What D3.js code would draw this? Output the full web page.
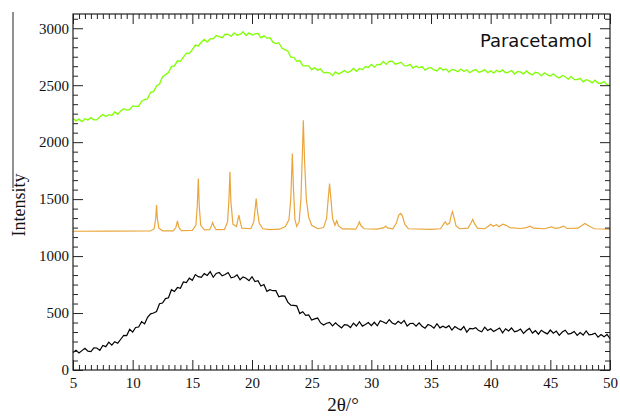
<!DOCTYPE html>
<html><head><meta charset="utf-8">
<script src="https://cdn.jsdelivr.net/npm/d3@7"></script>
<style>body{margin:0;background:#fff}svg{display:block}
svg text.serif{font-family:"Liberation Serif","DejaVu Serif","Times New Roman",serif !important}</style>
</head><body>
<script>
// 2θ grid for amorphous patterns (0.25° steps from 5 to 50)
const twoThetaStart = 5, twoThetaStep = 0.25;
const greenIntensity = [
2208,2187,2202,2180,2206,2194,2215,2196,2195,2223,2242,2225,2242,2234,2265,2244,2274,2293,2281,2285,
2318,2314,2315,2359,2373,2381,2438,2444,2494,2510,2573,2593,2611,2663,2670,2714,2710,2746,2782,2780,
2813,2852,2844,2877,2903,2879,2908,2907,2936,2926,2917,2948,2947,2929,2960,2939,2946,2969,2936,2959,
2940,2950,2955,2916,2933,2913,2917,2878,2866,2873,2826,2813,2800,2746,2745,2710,2716,2672,2670,2670,
2635,2654,2631,2644,2608,2612,2609,2584,2617,2599,2613,2629,2610,2622,2647,2622,2647,2637,2664,2655,
2683,2658,2683,2680,2709,2683,2710,2712,2684,2692,2702,2671,2670,2683,2650,2668,2653,2663,2632,2650,
2654,2634,2625,2654,2633,2643,2615,2638,2632,2618,2642,2620,2636,2610,2629,2637,2613,2621,2637,2609,
2626,2605,2630,2615,2634,2609,2615,2629,2598,2621,2615,2599,2625,2602,2592,2614,2607,2582,2609,2591,
2581,2600,2577,2563,2586,2574,2553,2578,2549,2549,2560,2529,2548,2540,2521,2545,2517,2517,2531,2504,
2496];
const blackIntensity = [
154,174,149,170,190,165,161,194,193,172,215,205,245,219,249,235,270,304,302,358,
333,373,377,424,405,463,493,500,513,582,588,627,634,705,689,724,717,773,768,806,
787,838,819,813,846,830,863,814,848,856,827,839,856,810,816,835,792,817,806,784,
819,777,784,738,751,690,705,696,696,643,651,648,596,570,567,563,496,512,480,483,
438,449,456,413,395,410,418,387,414,390,369,399,394,373,412,386,424,385,400,417,
390,419,388,433,421,408,442,413,401,428,409,435,386,408,409,384,414,384,367,399,
388,367,406,370,385,371,389,350,381,364,352,382,333,366,361,371,346,336,376,347,
362,338,354,369,326,362,342,369,335,343,359,322,346,365,324,345,314,349,330,317,
351,323,342,304,333,349,316,322,338,304,328,307,343,309,313,323,288,311,291,312,
276];
// crystalline pattern: 2θ positions and intensities
const orangeX = [5,8,11.5,11.8,11.93,12.0,12.07,12.2,12.5,13.4,13.62,13.75,13.88,14.1,15.0,15.3,15.42,15.5,15.58,15.7,16.0,
16.45,16.6,16.7,16.8,17.0,17.7,17.95,18.07,18.15,18.23,18.4,18.7,18.82,18.9,18.98,19.15,19.9,20.15,20.27,20.35,20.43,20.6,20.9,
21.5,22.3,22.8,23.1,23.25,23.38,23.47,23.6,23.75,23.95,24.1,24.22,24.3,24.4,24.55,24.75,25.0,25.5,
26.0,26.25,26.4,26.5,26.6,26.75,26.95,27.1,27.25,27.6,28.7,28.88,29.0,29.12,29.4,
30.5,31.05,31.2,31.35,31.8,32.1,32.3,32.45,32.6,32.8,33.1,35.0,35.8,36.05,36.2,36.35,36.55,36.7,36.8,36.9,37.1,37.4,
38.1,38.35,38.5,38.65,38.9,39.5,39.8,40.0,40.2,40.5,40.7,41.0,41.3,41.6,42.5,43.0,43.3,43.6,44.5,45.1,45.4,45.8,46.1,46.4,47.3,47.9,48.3,48.7,50];
const orangeY = [1218,1219,1220,1240,1330,1447,1330,1245,1222,1222,1250,1310,1250,1224,1225,1270,1450,1681,1440,1270,1230,
1232,1265,1295,1265,1232,1235,1300,1500,1740,1480,1280,1260,1320,1360,1320,1245,1240,1300,1420,1506,1420,1290,1240,
1232,1236,1260,1320,1500,1900,1600,1320,1260,1300,1500,1900,2193,1850,1500,1340,1270,1240,
1250,1330,1520,1637,1520,1330,1270,1310,1265,1238,1236,1270,1300,1268,1240,
1236,1250,1263,1248,1240,1290,1360,1374,1355,1280,1240,1234,1240,1280,1301,1275,1290,1360,1389,1350,1265,1240,
1245,1290,1322,1285,1245,1240,1262,1280,1262,1275,1258,1280,1270,1250,1242,1250,1263,1245,1240,1257,1244,1250,1263,1242,1245,1287,1260,1240,1236];
const xTicks = [5,10,15,20,25,30,35,40,45,50];
const yTicks = [0,500,1000,1500,2000,2500,3000];
const seriesLabel = "Paracetamol";
const xLabel = "2θ/°", yLabel = "Intensity";

const W = 620, H = 416;
const svg = d3.select("body").append("svg").attr("width", W).attr("height", H);
const x = d3.scaleLinear().domain([5, 50]).range([73, 610]);
const y = d3.scaleLinear().domain([0, 3125]).range([370, 14]);

const grid = arr => arr.map((v, i) => [twoThetaStart + i * twoThetaStep, v]);
const line = d3.line().x(d => x(d[0])).y(d => y(d[1]));

svg.append("path").datum(grid(blackIntensity)).attr("d", line)
  .attr("fill", "none").attr("stroke", "#000").attr("stroke-width", 1.2);
svg.append("path").datum(orangeX.map((v, i) => [v, orangeY[i]])).attr("d", line)
  .attr("fill", "none").attr("stroke", "#eaa63c").attr("stroke-width", 1.2);
svg.append("path").datum(grid(greenIntensity)).attr("d", line)
  .attr("fill", "none").attr("stroke", "#7fff00").attr("stroke-width", 1.3);

const xMinor = d3.range(5, 50.01, 0.5).filter(v => Math.abs(v % 5) > 1e-6);
const yMinor = d3.range(0, 3125, 500 / 6).filter(v => Math.abs(v % 500) > 1e-3 && Math.abs(v % 500 - 500) > 1e-3);
const serifFamily = '"Liberation Serif", "DejaVu Serif", "Times New Roman", serif';

function styleAxis(g) {
  g.attr("font-family", serifFamily).attr("font-size", 15);
  g.select(".domain").remove();
  g.selectAll("line").attr("stroke", "#222").attr("stroke-width", 1);
  g.selectAll("text").classed("serif", true)
    .attr("font-family", serifFamily).style("font-family", serifFamily)
    .style("font-size", "15px").attr("fill", "#111");
}
// bottom
svg.append("g").attr("transform", "translate(0,370)")
  .call(d3.axisBottom(x).tickValues(xTicks).tickSize(-10).tickPadding(7).tickFormat(d3.format("d"))).call(styleAxis);
svg.append("g").attr("transform", "translate(0,370)")
  .call(d3.axisBottom(x).tickValues(xMinor).tickSize(-5).tickFormat("")).call(styleAxis);
// top
svg.append("g").attr("transform", "translate(0,14)")
  .call(d3.axisTop(x).tickValues(xTicks).tickSize(-10).tickFormat("")).call(styleAxis);
svg.append("g").attr("transform", "translate(0,14)")
  .call(d3.axisTop(x).tickValues(xMinor).tickSize(-5).tickFormat("")).call(styleAxis);
// left
svg.append("g").attr("transform", "translate(73,0)")
  .call(d3.axisLeft(y).tickValues(yTicks).tickSize(-10).tickPadding(4).tickFormat(d3.format("d"))).call(styleAxis);
svg.append("g").attr("transform", "translate(73,0)")
  .call(d3.axisLeft(y).tickValues(yMinor).tickSize(-5).tickFormat("")).call(styleAxis);
// right
svg.append("g").attr("transform", "translate(610,0)")
  .call(d3.axisRight(y).tickValues(yTicks).tickSize(-10).tickFormat("")).call(styleAxis);
svg.append("g").attr("transform", "translate(610,0)")
  .call(d3.axisRight(y).tickValues(yMinor).tickSize(-5).tickFormat("")).call(styleAxis);

svg.append("rect").attr("x", 73).attr("y", 14).attr("width", 537).attr("height", 356)
  .attr("fill", "none").attr("stroke", "#222").attr("stroke-width", 1.2);

svg.append("text").attr("x", 592).attr("y", 47).attr("text-anchor", "end")
  .style("font-family", "'DejaVu Sans', sans-serif").style("font-size", "18px").attr("fill", "#111").text(seriesLabel);

svg.append("text").attr("x", 343).attr("y", 411).attr("text-anchor", "middle").classed("serif", true)
  .style("font-family", serifFamily).style("font-size", "19px").attr("fill", "#111").text(xLabel);

svg.append("line").attr("x1", 13).attr("x2", 13).attr("y1", 12).attr("y2", 188)
  .attr("stroke", "#222").attr("stroke-width", 1);
svg.append("text").attr("transform", "translate(25,205) rotate(-90)").attr("text-anchor", "middle").classed("serif", true)
  .style("font-family", serifFamily).style("font-size", "18px").attr("fill", "#111").text(yLabel);
</script>
</body></html>
